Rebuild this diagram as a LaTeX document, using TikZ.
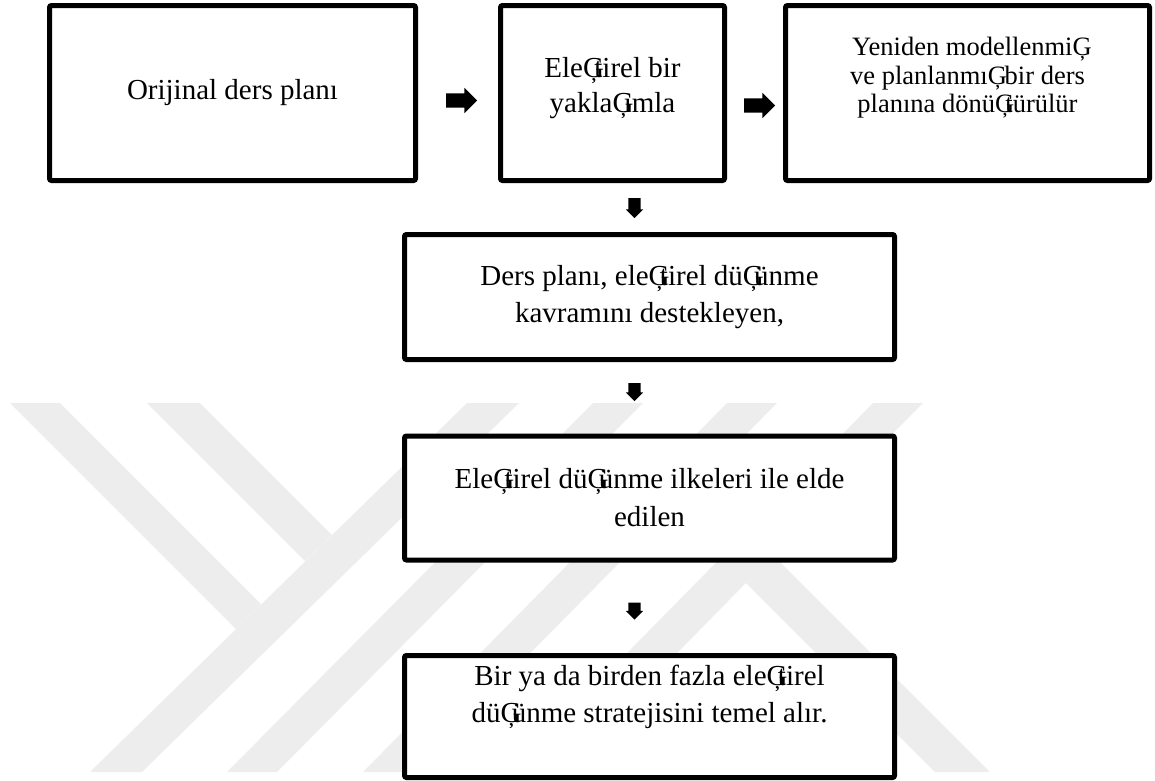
\documentclass[tikz,border=0pt]{standalone}
\usepackage{fontspec}
\setmainfont{Liberation Serif}
\usetikzlibrary{shapes.arrows,positioning}

% the s-cedilla as the page prints it (wide glyph in a narrow slot)
\newcommand{\bsh}{\makebox[0.389em][l]{Ģ}}

\begin{document}
\begin{tikzpicture}[
	%	style def
    x=1pt, y=-1pt,
    plan box/.style={draw, fill=white, line width=5pt, rounded corners=2pt, align=center, inner sep=0pt},
    big text/.style={font=\fontsize{29}{#1}\selectfont},
    right block/.style={single arrow, fill=black, inner xsep=0pt, inner ysep=7pt, single arrow head extend=5.5pt, minimum height=31pt, minimum width=0pt},
    down block/.style={single arrow, fill=black, rotate=-90, inner xsep=0pt, inner ysep=6pt, single arrow head extend=2.5pt, minimum height=#1, minimum width=0pt},
    wmark/.style={fill=black!7}
    ]
	\useasboundingbox (0,0) rectangle (1155,780);

	% watermark in the back
	\fill[wmark] (10,403) -- (60,403) -- (261,604) -- (236,629) -- cycle;
	\fill[wmark] (147,403) -- (200,403) -- (332,535) -- (305,561) -- cycle;
	\fill[wmark] (90,772) -- (142,772) -- (519,403) -- (467,403) -- cycle;
	\fill[wmark] (227,772) -- (277,772) -- (643,403) -- (593,403) -- cycle;
	\fill[wmark] (363,772) -- (413,772) -- (777,403) -- (727,403) -- cycle;
	\fill[wmark] (510,772) -- (560,772) -- (923,403) -- (873,403) -- cycle;
	\fill[wmark] (773,555) -- (990,772) -- (935,772) -- (746,583) -- cycle;

	% top row
	\node[plan box, big text=34, minimum width=366pt, minimum height=175pt] (orig) at (232.5,93) {Orijinal ders planı};
	\node[plan box, big text=35, minimum width=224pt, minimum height=175pt, text depth=16pt] (yaklasim) at (612.5,93) {Ele\bsh tirel bir\\ yakla\bsh ımla};
	\node[plan box, font=\fontsize{26.5}{28.5}\selectfont, minimum width=364pt, minimum height=175pt, text depth=36pt] (yeni) at (967.5,93) {Yeniden modellenmi\bsh\\ ve planlanmı\bsh{} bir ders\\ planına dönü\bsh türülür};

	% column below
	\node[plan box, big text=37, minimum width=490pt, minimum height=125pt] (ders) at (649.5,297) {Ders planı, ele\bsh tirel dü\bsh ünme\\ kavramını destekleyen,};
	\node[plan box, big text=38, minimum width=490pt, minimum height=124pt] (ilke) at (649.5,498) {Ele\bsh tirel dü\bsh ünme ilkeleri ile elde\\ edilen};
	\node[plan box, big text=37, minimum width=490pt, minimum height=122pt, text depth=46pt] (temel) at (649.5,716.5) {Bir ya da birden fazla ele\bsh tirel\\ dü\bsh ünme stratejisini temel alır.};

	% block arrows
	\node[right block] (r1) at (458,100.5) {};
	\node[right block] (r2) at (756,105.5) {};
	\node[down block=20pt] (d1) at (634.5,205) {};
	\node[down block=18pt] (d2) at (634.5,389) {};
	\node[down block=17pt] (d3) at (634.5,608) {};
\end{tikzpicture}
\end{document}
